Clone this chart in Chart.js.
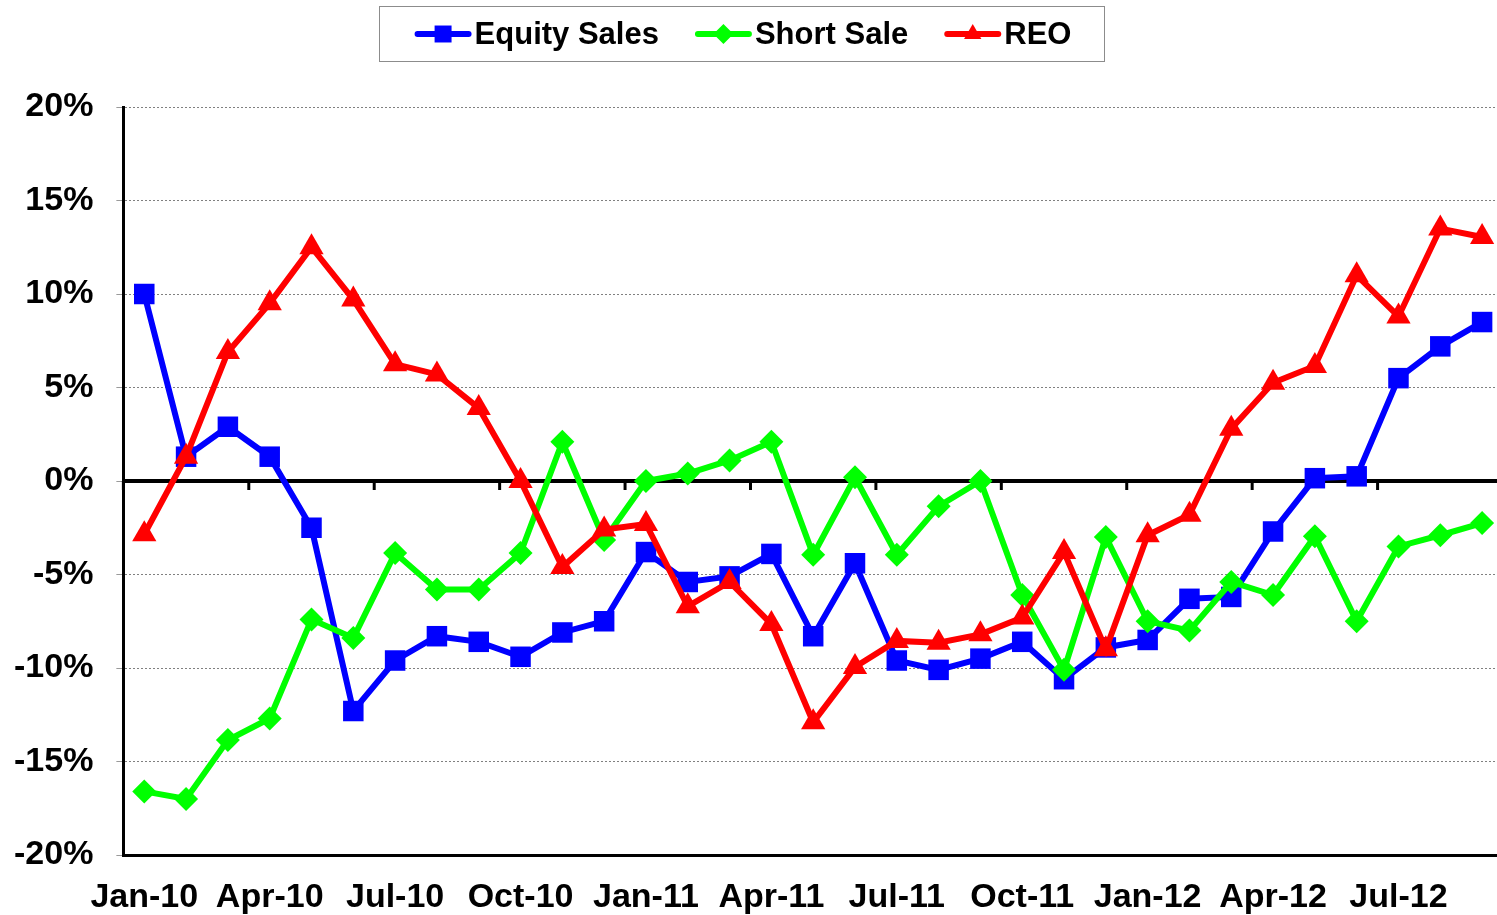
<!DOCTYPE html>
<html><head><meta charset="utf-8">
<script src="https://cdn.jsdelivr.net/npm/chart.js@4.4.0/dist/chart.umd.min.js"></script>
<style>html,body{margin:0;padding:0;overflow:hidden;background:#fff}canvas{display:block}</style>
</head><body>
<canvas id="c" width="1504" height="915"></canvas>
<script>
const months = ['Jan-10','Feb-10','Mar-10','Apr-10','May-10','Jun-10','Jul-10','Aug-10','Sep-10','Oct-10','Nov-10','Dec-10',
  'Jan-11','Feb-11','Mar-11','Apr-11','May-11','Jun-11','Jul-11','Aug-11','Sep-11','Oct-11','Nov-11','Dec-11',
  'Jan-12','Feb-12','Mar-12','Apr-12','May-12','Jun-12','Jul-12','Aug-12','Sep-12'];
const xTickLabels = ['Jan-10','Apr-10','Jul-10','Oct-10','Jan-11','Apr-11','Jul-11','Oct-11','Jan-12','Apr-12','Jul-12'];
const equitySales = [10.0, 1.3, 2.9, 1.3, -2.5, -12.3, -9.6, -8.3, -8.6, -9.4, -8.1, -7.5,
  -3.8, -5.4, -5.1, -3.9, -8.3, -4.4, -9.6, -10.1, -9.5, -8.6, -10.6, -8.9,
  -8.5, -6.3, -6.2, -2.7, 0.15, 0.25, 5.5, 7.2, 8.5];
const shortSale = [-16.6, -17.0, -13.85, -12.7, -7.4, -8.4, -3.85, -5.8, -5.8, -3.85, 2.1, -3.15,
  0.0, 0.4, 1.1, 2.1, -3.95, 0.2, -3.95, -1.35, 0.0, -6.1, -10.1, -3.0,
  -7.5, -8.0, -5.4, -6.1, -2.95, -7.5, -3.5, -2.9, -2.25];
const reo = [-2.85, 1.3, 6.9, 9.5, 12.5, 9.7, 6.25, 5.7, 3.9, 0.0, -4.6, -2.6,
  -2.3, -6.7, -5.4, -7.65, -12.9, -9.95, -8.55, -8.65, -8.2, -7.3, -3.8, -9.0,
  -2.9, -1.8, 2.8, 5.25, 6.15, 11.0, 8.8, 13.5, 13.05];
const yTickValues = [-20, -15, -10, -5, 0, 5, 10, 15, 20];
const seriesNames = ['Equity Sales', 'Short Sale', 'REO'];

const FONT = '"Liberation Sans", Arial, sans-serif';

function drawMarker(ctx, style, x, y, r, color) {
  ctx.save();
  ctx.fillStyle = color;
  ctx.beginPath();
  if (style === 'rect') {
    const s = r * Math.SQRT1_2;
    ctx.rect(x - s, y - s, 2 * s, 2 * s);
  } else if (style === 'rectRot') {
    ctx.moveTo(x - r, y); ctx.lineTo(x, y - r); ctx.lineTo(x + r, y); ctx.lineTo(x, y + r); ctx.closePath();
  } else {
    const w = r * Math.sin(2 * Math.PI / 3);
    ctx.moveTo(x, y - r); ctx.lineTo(x + w, y + r / 2); ctx.lineTo(x - w, y + r / 2); ctx.closePath();
  }
  ctx.fill();
  ctx.restore();
}

const zeroLinePlugin = {
  id: 'zeroLine',
  beforeDatasetsDraw(chart) {
    const {ctx, chartArea} = chart;
    const xs = chart.scales.x, ys = chart.scales.y;
    const y0 = ys.getPixelForValue(0);
    ctx.save();
    ctx.strokeStyle = '#000';
    ctx.lineWidth = 4;
    ctx.beginPath();
    ctx.moveTo(chartArea.left, y0);
    ctx.lineTo(chartArea.right, y0);
    ctx.stroke();
    const step = xs.getPixelForValue(1) - xs.getPixelForValue(0);
    ctx.lineWidth = 3;
    for (let i = 0; i < months.length; i += 3) {
      const x = xs.getPixelForValue(i) - step / 2;
      ctx.beginPath();
      ctx.moveTo(x, y0);
      ctx.lineTo(x, y0 + 9);
      ctx.stroke();
    }
    ctx.restore();
  }
};

const legendPlugin = {
  id: 'boxLegend',
  afterDraw(chart) {
    const ctx = chart.ctx;
    const ds = chart.data.datasets;
    ctx.save();
    ctx.font = 'bold 31px ' + FONT;
    const lineLen = 57, gapText = 3, gapItem = 36;
    let total = 0;
    const widths = ds.map(d => ctx.measureText(d.label).width);
    widths.forEach((w, i) => { total += lineLen + gapText + w + (i < widths.length - 1 ? gapItem : 0); });
    const cx = 743, cy = 34;
    const boxX = Math.round(cx - total / 2 - 36) + 0.5, boxW = Math.round(total + 68);
    ctx.strokeStyle = '#8c8c8c';
    ctx.lineWidth = 1;
    ctx.strokeRect(boxX, 6.5, boxW, 55);
    let x = cx - total / 2;
    ctx.textBaseline = 'middle';
    ctx.fillStyle = '#000';
    ds.forEach((d, i) => {
      ctx.strokeStyle = d.borderColor;
      ctx.lineWidth = 6;
      ctx.lineCap = 'round';
      ctx.beginPath();
      ctx.moveTo(x + 3, cy);
      ctx.lineTo(x + lineLen - 3, cy);
      ctx.stroke();
      drawMarker(ctx, d.pointStyle, x + lineLen / 2, cy, d.pointStyle === 'rect' ? 12 : 10, d.borderColor);
      ctx.fillStyle = '#000';
      ctx.fillText(d.label, x + lineLen + gapText, cy + 1);
      x += lineLen + gapText + widths[i] + gapItem;
    });
    ctx.restore();
  }
};

new Chart(document.getElementById('c'), {
  type: 'line',
  data: {
    labels: months,
    datasets: [
      { label: seriesNames[0], data: equitySales, borderColor: '#0000FF', backgroundColor: '#0000FF',
        borderWidth: 6, pointStyle: 'rect', pointRadius: 14.5, pointBorderWidth: 0, order: 3, clip: false },
      { label: seriesNames[1], data: shortSale, borderColor: '#00FF00', backgroundColor: '#00FF00',
        borderWidth: 6, pointStyle: 'rectRot', pointRadius: 12, pointBorderWidth: 0, order: 2, clip: false },
      { label: seriesNames[2], data: reo, borderColor: '#FF0000', backgroundColor: '#FF0000',
        borderWidth: 6, pointStyle: 'triangle', pointRadius: 14, pointBorderWidth: 0, order: 1, clip: false }
    ]
  },
  options: {
    responsive: false,
    devicePixelRatio: 1,
    animation: false,
    events: [],
    layout: { autoPadding: false, padding: { top: 107, right: 1, bottom: 0, left: 14 } },
    elements: { line: { tension: 0 } },
    plugins: { legend: { display: false }, tooltip: { enabled: false } },
    scales: {
      x: {
        offset: true,
        afterFit: (axis) => { axis.height = 60; axis.paddingLeft = 0; axis.paddingRight = 0; },
        grid: { display: true, color: 'rgba(0,0,0,0)', drawTicks: false, offset: true },
        border: { display: true, color: '#000', width: 3 },
        ticks: {
          autoSkip: false, maxRotation: 0, minRotation: 0, padding: 22.5,
          color: '#000', font: { family: FONT, size: 34, weight: 'bold' },
          callback: (v, i) => xTickLabels.includes(months[i]) ? months[i] : ''
        }
      },
      y: {
        min: yTickValues[0], max: yTickValues[yTickValues.length - 1],
        afterBuildTicks: (axis) => { axis.ticks = yTickValues.map(v => ({ value: v })); },
        afterFit: (axis) => { axis.width -= axis.options.ticks.padding; axis.paddingTop = 0; axis.paddingBottom = 0; },
        grid: {
          color: (c) => (c.tick && c.tick.value === 0) ? 'rgba(0,0,0,0)' : '#808080',
          lineWidth: 1, tickLength: 7, tickColor: '#9a9a9a'
        },
        border: { display: true, color: '#000', width: 3, dash: [2, 2] },
        ticks: {
          padding: 23, color: '#000', font: { family: FONT, size: 34, weight: 'bold' },
          callback: (v) => v + '%'
        }
      }
    }
  },
  plugins: [zeroLinePlugin, legendPlugin]
});
</script>
</body></html>
